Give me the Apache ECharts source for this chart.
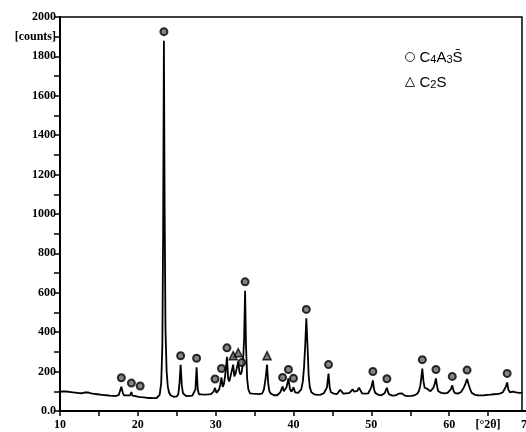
<!DOCTYPE html>
<html>
<head>
<meta charset="utf-8">
<script src="https://cdn.jsdelivr.net/npm/echarts@6/dist/echarts.min.js"></script>
<style>
  html, body { margin: 0; padding: 0; background: #fff; }
  #chart { width: 526px; height: 432px; }
</style>
</head>
<body>
<div id="chart"></div>
<script>
// XRD pattern: [2θ (deg), intensity (counts)]
const twoTheta = [
  10.0,10.2,10.4,10.6,10.8,11.0,11.2,11.4,11.6,11.8,12.0,12.2,12.4,12.6,12.8,13.0,13.2,13.4,13.6,13.8,
  14.0,14.2,14.4,14.6,14.8,15.0,15.2,15.4,15.6,15.8,16.0,16.2,16.4,16.6,16.8,17.0,17.2,17.4,17.55,17.7,
  17.88,18.05,18.2,18.4,18.6,18.8,19.0,19.17,19.3,19.5,19.7,19.9,20.1,20.3,20.45,20.6,20.8,21.0,21.2,21.4,
  21.6,21.8,22.0,22.2,22.4,22.6,22.8,23.0,23.15,23.25,23.35,23.45,23.55,23.7,23.85,24.0,24.2,24.4,24.6,24.8,
  25.0,25.2,25.35,25.5,25.65,25.8,26.0,26.2,26.4,26.6,26.8,27.0,27.2,27.4,27.55,27.7,27.85,28.0,28.2,28.4,
  28.6,28.8,29.0,29.2,29.4,29.6,29.75,29.92,30.1,30.3,30.45,30.6,30.75,30.9,31.05,31.2,31.3,31.45,31.6,31.75,
  31.9,32.05,32.25,32.4,32.55,32.7,32.9,33.05,33.2,33.35,33.5,33.65,33.78,33.9,34.05,34.2,34.4,34.6,34.8,35.0,
  35.2,35.4,35.6,35.8,36.0,36.2,36.4,36.6,36.75,36.9,37.1,37.3,37.5,37.7,37.9,38.1,38.3,38.45,38.6,38.75,
  38.95,39.1,39.35,39.55,39.75,40.0,40.2,40.4,40.6,40.8,41.0,41.2,41.35,41.5,41.65,41.8,41.95,42.1,42.3,42.5,
  42.7,42.9,43.1,43.3,43.5,43.7,43.9,44.1,44.3,44.5,44.65,44.8,45.0,45.2,45.4,45.6,45.8,46.0,46.2,46.4,
  46.6,46.8,47.0,47.2,47.4,47.6,47.8,48.0,48.2,48.4,48.6,48.8,49.0,49.2,49.4,49.6,49.8,50.0,50.2,50.35,
  50.5,50.7,50.9,51.1,51.3,51.5,51.7,51.85,52.0,52.15,52.3,52.5,52.7,52.9,53.1,53.3,53.5,53.7,53.9,54.1,
  54.3,54.5,54.7,54.9,55.1,55.3,55.5,55.7,55.9,56.1,56.3,56.45,56.55,56.7,56.85,57.0,57.2,57.4,57.6,57.8,
  58.0,58.15,58.3,58.45,58.6,58.8,59.0,59.2,59.4,59.6,59.8,60.0,60.2,60.4,60.55,60.7,60.9,61.1,61.3,61.5,
  61.7,61.9,62.1,62.3,62.5,62.7,62.9,63.1,63.3,63.5,63.7,63.9,64.1,64.3,64.5,64.7,64.9,65.1,65.3,65.5,
  65.7,65.9,66.1,66.3,66.5,66.7,66.9,67.1,67.3,67.45,67.6,67.8,68.0,68.2,68.4,68.6,68.8,69.0,69.2,69.4
];
const counts = [
  98,95,100,96,99,94,97,92,95,90,93,88,91,87,90,88,94,102,95,86,
  89,84,87,82,85,80,83,78,81,77,80,75,78,74,77,73,76,74,82,100,
  123,95,80,76,79,74,80,96,78,72,75,70,72,81,70,66,69,64,67,63,
  66,62,65,63,66,70,82,140,330,900,1880,1000,420,200,125,95,80,75,72,76,
  74,85,140,235,130,90,80,76,80,77,81,78,82,110,222,110,85,80,84,79,
  83,80,84,81,86,92,100,117,92,98,110,135,170,122,135,175,210,275,165,150,
  175,200,235,175,190,215,250,200,185,200,240,360,610,330,160,110,90,85,88,84,
  87,82,86,84,90,110,160,235,140,100,88,84,80,83,80,85,95,110,125,100,
  95,120,165,110,98,120,95,88,92,100,110,150,220,330,470,330,180,120,95,88,
  84,88,82,86,83,87,90,100,120,190,120,95,85,88,82,86,95,108,100,88,
  85,90,86,92,100,110,98,92,102,118,105,90,85,88,84,90,98,120,155,110,
  92,86,82,85,80,84,90,100,118,95,84,80,78,82,79,84,88,95,90,82,
  78,81,76,80,77,82,79,84,88,100,130,180,215,150,118,108,112,104,100,110,
  120,140,165,125,100,95,92,96,90,94,92,96,110,130,105,92,90,88,92,95,
  105,120,140,162,135,110,92,85,82,86,80,84,79,83,80,85,82,86,83,88,
  85,90,86,91,88,93,95,105,125,145,110,95,92,98,102,94,90,92,95,92
];

// Identified reflections: [2θ, peak intensity]
const peaksC4A3S = [
  [17.88,123],[19.17,96],[20.3,81],[23.35,1880],[25.5,235],[27.55,222],[29.92,117],
  [30.75,170],[31.45,275],[33.35,200],[33.78,610],[38.6,125],[39.35,165],[40.0,120],
  [41.65,470],[44.5,190],[50.2,155],[52.0,118],[56.55,215],[58.3,165],[60.4,130],
  [62.3,162],[67.45,145]
];
const peaksC2S = [[32.25,235],[32.9,250],[36.6,235]];

// Axis settings
const xTickLabels = {10:'10',20:'20',30:'30',40:'40',50:'50',60:'60',65:'[°2θ]',70:'70'};
const yTickLabels = {0:'0.0',200:'200',400:'400',600:'600',800:'800',1000:'1000',1200:'1200',
                     1400:'1400',1600:'1600',1800:'1800',1900:'[counts]',2000:'2000'};

const pattern = twoTheta.map((t, i) => [t, counts[i]]);

const tickFont = { fontFamily: 'Liberation Serif', fontWeight: 'bold', fontSize: 12, color: '#000' };
const legendRich = {
  b: { fontFamily: 'Liberation Sans', fontSize: 15, color: '#000', lineHeight: 16, verticalAlign: 'bottom' },
  s: { fontFamily: 'Liberation Sans', fontSize: 11, color: '#000', lineHeight: 16, verticalAlign: 'bottom' }
};

const chart = echarts.init(document.getElementById('chart'), null, { renderer: 'canvas' });
chart.setOption({
  animation: false,
  backgroundColor: '#fff',
  grid: { left: 60, right: -1, top: 17, bottom: 21, outerBoundsMode: 'none', containLabel: false },
  legend: {
    orient: 'vertical',
    left: 400,
    top: 45,
    itemGap: 10,
    itemWidth: 9,
    itemHeight: 9,
    data: [
      { name: 'C4A3S', icon: 'circle', itemStyle: { color: '#fff', borderColor: '#000', borderWidth: 1 } },
      { name: 'C2S', icon: 'triangle', itemStyle: { color: '#fff', borderColor: '#000', borderWidth: 1 } }
    ],
    formatter: function (name) {
      return name === 'C4A3S'
        ? '{b|C}{s|4}{b|A}{s|3}{b|S\u0304}'
        : '{b|C}{s|2}{b|S}';
    },
    textStyle: { rich: legendRich }
  },
  xAxis: {
    type: 'value',
    min: 10, max: 70, interval: 5,
    axisLine: { show: true, lineStyle: { color: '#000', width: 2 } },
    axisTick: { show: true, length: 5, lineStyle: { color: '#000', width: 1.5 } },
    axisLabel: Object.assign({
      interval: 0, margin: 8, showMaxLabel: true, hideOverlap: false,
      formatter: v => xTickLabels[v] || ''
    }, tickFont),
    splitLine: { show: false }
  },
  yAxis: {
    type: 'value',
    min: 0, max: 2000, interval: 100,
    axisLine: { show: true, lineStyle: { color: '#000', width: 2 } },
    axisTick: { show: true, length: 6, lineStyle: { color: '#000', width: 1.5 } },
    axisLabel: Object.assign({
      interval: 0, margin: 4,
      formatter: v => yTickLabels[v] || ''
    }, tickFont),
    splitLine: { show: false }
  },
  graphic: [
    {
      type: 'polyline',
      shape: { points: [[60, 17], [522, 17], [522, 411]] },
      style: { stroke: '#000', lineWidth: 1.5, fill: null },
      silent: true
    }
  ],
  series: [
    {
      name: 'pattern',
      type: 'line',
      data: pattern,
      showSymbol: false,
      lineStyle: { color: '#000', width: 1.8 },
      z: 2
    },
    {
      name: 'C4A3S',
      type: 'scatter',
      data: peaksC4A3S,
      symbol: 'circle',
      symbolSize: 7,
      symbolOffset: [0, -9],
      itemStyle: { color: '#666', borderColor: '#000', borderWidth: 2 },
      z: 3
    },
    {
      name: 'C2S',
      type: 'scatter',
      data: peaksC2S,
      symbol: 'triangle',
      symbolSize: 8,
      symbolOffset: [0, -9],
      itemStyle: { color: '#555', borderColor: '#000', borderWidth: 1.5 },
      z: 3
    }
  ]
});
</script>
</body>
</html>
